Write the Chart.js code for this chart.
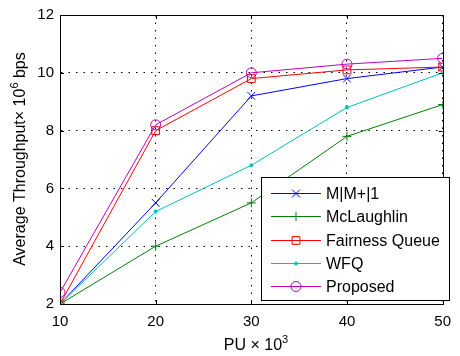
<!DOCTYPE html>
<html>
<head>
<meta charset="utf-8">
<script src="https://cdn.jsdelivr.net/npm/chart.js@4"></script>
<style>
html, body { margin: 0; padding: 0; background: #fff; }
#wrap { width: 460px; height: 356px; }
</style>
</head>
<body>
<div id="wrap"><canvas id="chart" width="460" height="356"></canvas></div>
<script>
// data
const puValues = [10, 20, 30, 40, 50];
const yTicks = [2, 4, 6, 8, 10, 12];
const seriesNames = ['M|M+|1', 'McLaughlin', 'Fairness Queue', 'WFQ', 'Proposed'];
const mmValues = [2.0, 5.5, 9.2, 9.8, 10.2];
const mclaughlinValues = [2.0, 4.0, 5.5, 7.8, 8.9];
const fairnessValues = [2.0, 8.0, 9.8, 10.1, 10.2];
const wfqValues = [2.0, 5.2, 6.8, 8.8, 10.0];
const proposedValues = [2.4, 8.2, 10.0, 10.3, 10.5];

const FONT = '"Liberation Sans", Arial, Helvetica, sans-serif';
const TICK_SIZE = 15;
const TEXT_SIZE = 16;

const styles = [
    { color: '#0000ff', pointStyle: 'crossRot', radius: 5.5, fill: false },
    { color: '#008000', pointStyle: 'cross', radius: 4.5, fill: false },
    { color: '#ff0000', pointStyle: 'rect', radius: 5.5, fill: false },
    { color: '#00bfbf', pointStyle: 'circle', radius: 1.5, fill: true },
    { color: '#bf00bf', pointStyle: 'circle', radius: 5, fill: false }
];

const allValues = [mmValues, mclaughlinValues, fairnessValues, wfqValues, proposedValues];

const datasets = allValues.map((vals, i) => ({
    label: seriesNames[i],
    data: vals.map((v, j) => ({ x: puValues[j], y: v })),
    borderColor: styles[i].color,
    backgroundColor: styles[i].fill ? styles[i].color : 'rgba(0,0,0,0)',
    pointBorderColor: styles[i].color,
    pointBackgroundColor: styles[i].fill ? styles[i].color : 'rgba(0,0,0,0)',
    pointStyle: styles[i].pointStyle,
    pointRadius: styles[i].radius,
    pointHoverRadius: styles[i].radius,
    pointBorderWidth: 1,
    borderWidth: 1,
    tension: 0,
    fill: false,
    order: 4 - i
}));

function measureParts(ctx, parts, size) {
    let w = 0;
    parts.forEach(p => {
        ctx.font = (p.sup ? Math.round(size * 0.7) : size) + 'px ' + FONT;
        w += ctx.measureText(p.text).width;
    });
    return w;
}

function drawTitle(ctx, parts, cx, cy, size, rotate) {
    ctx.save();
    ctx.translate(cx, cy);
    if (rotate) ctx.rotate(-Math.PI / 2);
    const total = measureParts(ctx, parts, size);
    let x = -total / 2;
    ctx.fillStyle = '#000';
    ctx.textBaseline = 'alphabetic';
    ctx.textAlign = 'left';
    parts.forEach(p => {
        const s = p.sup ? Math.round(size * 0.7) : size;
        ctx.font = s + 'px ' + FONT;
        ctx.fillText(p.text, x, p.sup ? -size * 0.45 : 0);
        x += ctx.measureText(p.text).width;
    });
    ctx.restore();
}

const decorPlugin = {
    id: 'decor',
    afterDraw(chart) {
        const ctx = chart.ctx;
        const a = chart.chartArea;
        const xs = chart.scales.x;
        const ys = chart.scales.y;

        // frame + inward ticks
        ctx.save();
        ctx.strokeStyle = '#000';
        ctx.lineWidth = 1;
        ctx.strokeRect(Math.round(a.left) + 0.5, Math.round(a.top) + 0.5,
            Math.round(a.right - a.left), Math.round(a.bottom - a.top));
        const tl = 4;
        ctx.beginPath();
        puValues.forEach(v => {
            const px = Math.round(xs.getPixelForValue(v)) + 0.5;
            ctx.moveTo(px, a.bottom); ctx.lineTo(px, a.bottom - tl);
            ctx.moveTo(px, a.top); ctx.lineTo(px, a.top + tl);
        });
        yTicks.forEach(v => {
            const py = Math.round(ys.getPixelForValue(v)) + 0.5;
            ctx.moveTo(a.left, py); ctx.lineTo(a.left + tl, py);
            ctx.moveTo(a.right, py); ctx.lineTo(a.right - tl, py);
        });
        ctx.stroke();
        ctx.restore();

        // axis titles
        drawTitle(ctx, [
            { text: 'Average Throughput' },
            { text: '\u00d7 10' },
            { text: '6', sup: true },
            { text: ' bps' }
        ], 25, 159, TEXT_SIZE, true);
        drawTitle(ctx, [
            { text: 'PU \u00d7 10' },
            { text: '3', sup: true }
        ], 256, 350, TEXT_SIZE, false);

        // legend
        const bx = 261, by = 177, bw = 188, bh = 123;
        ctx.save();
        ctx.fillStyle = '#fff';
        ctx.fillRect(bx, by, bw, bh);
        ctx.strokeStyle = '#000';
        ctx.lineWidth = 1;
        ctx.strokeRect(bx + 0.5, by + 0.5, bw, bh);
        ctx.font = TEXT_SIZE + 'px ' + FONT;
        ctx.textBaseline = 'middle';
        ctx.textAlign = 'left';
        seriesNames.forEach((name, i) => {
            const y = Math.round(by + 16 + i * 23.3) + 0.5;
            const st = styles[i];
            ctx.strokeStyle = st.color;
            ctx.fillStyle = st.fill ? st.color : 'rgba(0,0,0,0)';
            ctx.lineWidth = 1;
            ctx.beginPath();
            ctx.moveTo(271, y);
            ctx.lineTo(321, y);
            ctx.stroke();
            Chart.helpers.drawPoint(ctx, {
                pointStyle: st.pointStyle, radius: st.radius, rotation: 0, borderWidth: 1
            }, 296, y);
            ctx.fillStyle = '#000';
            ctx.fillText(name, 326, y + 1);
        });
        ctx.restore();
    }
};

new Chart(document.getElementById('chart'), {
    type: 'line',
    data: { datasets: datasets },
    options: {
        responsive: false,
        animation: false,
        devicePixelRatio: 1,
        layout: { padding: { top: 14, right: 8, left: 0, bottom: 0 } },
        plugins: {
            legend: { display: false },
            tooltip: { enabled: false },
            title: { display: false }
        },
        scales: {
            x: {
                type: 'linear',
                min: 10,
                max: 50,
                ticks: {
                    stepSize: 10,
                    color: '#000',
                    padding: 9,
                    font: { size: TICK_SIZE, family: FONT }
                },
                grid: { color: '#000', drawTicks: false, lineWidth: 1 },
                border: { display: true, color: '#000', width: 1, dash: [1.5, 6] },
                afterFit: s => { s.height = 52; }
            },
            y: {
                min: 2,
                max: 12,
                ticks: {
                    stepSize: 2,
                    color: '#000',
                    padding: 6,
                    font: { size: TICK_SIZE, family: FONT }
                },
                grid: { color: '#000', drawTicks: false, lineWidth: 1 },
                border: { display: true, color: '#000', width: 1, dash: [1.5, 6] },
                afterFit: s => { s.width = 60; }
            }
        }
    },
    plugins: [decorPlugin]
});
</script>
</body>
</html>
